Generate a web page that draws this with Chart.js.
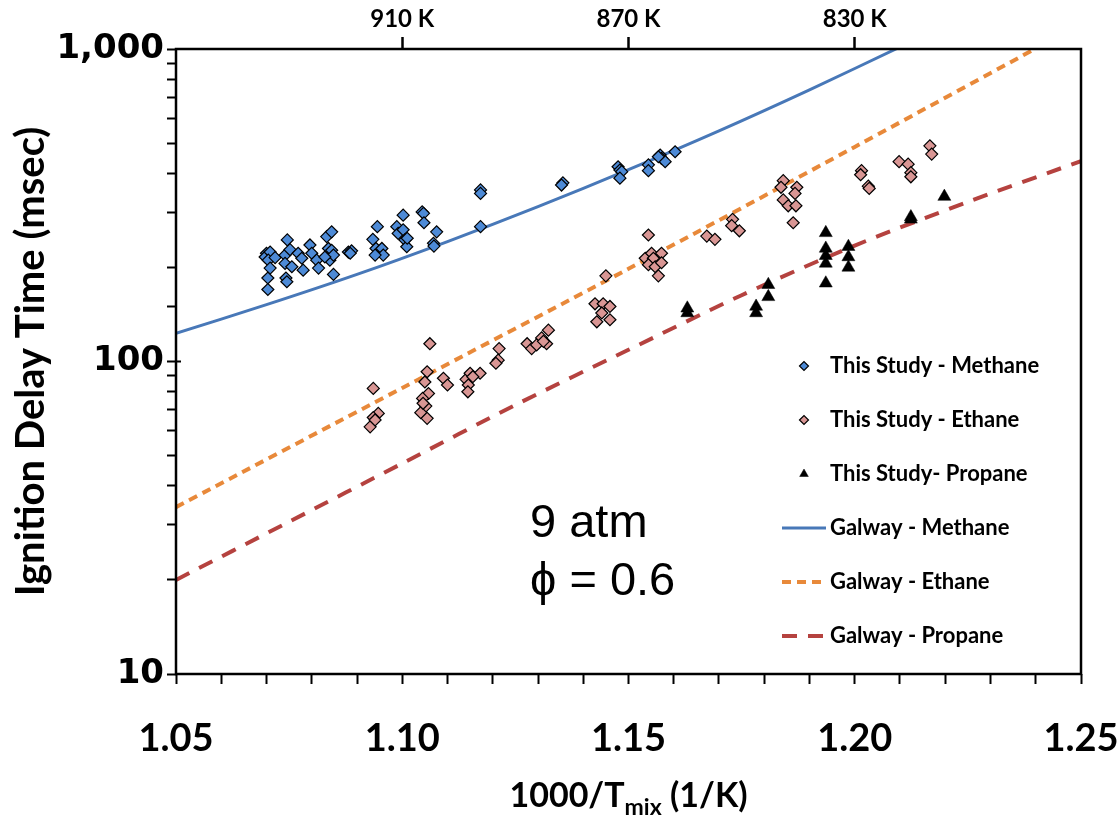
<!DOCTYPE html>
<html lang="en">
<head>
<meta charset="UTF-8">
<title>Ignition Delay Time - 9 atm</title>
<script src="https://cdn.jsdelivr.net/npm/chart.js"></script>
<style>
  body { margin: 0; background: #fff; }
  canvas { display: block; }
</style>
</head>
<body>
<canvas id="chart" width="1120" height="818"></canvas>
<script>
// measured ignition delays (1000/T, msec)
const studyMethaneX = [1.0700, 1.0697, 1.0708, 1.0704, 1.0719, 1.0708, 1.0703, 1.0703, 1.0741, 1.0746,
  1.0741, 1.0743, 1.0745, 1.0752, 1.0756, 1.0770, 1.0778, 1.0781, 1.0796, 1.0800,
  1.0811, 1.0815, 1.0833, 1.0844, 1.0837, 1.0844, 1.0840, 1.0848, 1.0829, 1.0848,
  1.0881, 1.0888, 1.0885, 1.0935, 1.0942, 1.0945, 1.0955, 1.0958, 1.0940, 1.0988,
  1.0991, 1.1002, 1.1002, 1.1006, 1.1010, 1.1011, 1.1044, 1.1047, 1.1048, 1.1076,
  1.1069, 1.1070, 1.1173, 1.1173, 1.1173, 1.1355, 1.1352, 1.1477, 1.1481, 1.1485,
  1.1481, 1.1544, 1.1544, 1.1570, 1.1573, 1.1581, 1.1603, 1.1566];
const studyMethaneY = [222, 216, 224, 211, 215, 199, 185, 170, 219, 245,
  206, 185, 180, 228, 201, 222, 214, 196, 236, 222,
  211, 199, 251, 260, 230, 227, 211, 219, 216, 190,
  224, 226, 222, 246, 230, 270, 230, 219, 219, 270,
  257, 294, 264, 245, 233, 248, 301, 298, 278, 260,
  239, 234, 354, 345, 270, 373, 367, 420, 410, 405,
  386, 426, 408, 458, 447, 436, 469, 452];

const studyEthaneX = [1.0936, 1.0947, 1.0936, 1.0929, 1.0940, 1.1061, 1.1055, 1.1050, 1.1058, 1.1045,
  1.1052, 1.1041, 1.1055, 1.1046, 1.1091, 1.1100, 1.1141, 1.1150, 1.1146, 1.1145,
  1.1172, 1.1156, 1.1214, 1.1212, 1.1207, 1.1276, 1.1286, 1.1308, 1.1323, 1.1319,
  1.1297, 1.1312, 1.1426, 1.1444, 1.1459, 1.1441, 1.1430, 1.1459, 1.1450, 1.1544,
  1.1537, 1.1551, 1.1573, 1.1555, 1.1544, 1.1559, 1.1573, 1.1566, 1.1673, 1.1691,
  1.1730, 1.1728, 1.1745, 1.1842, 1.1837, 1.1872, 1.1868, 1.1842, 1.1853, 1.1870,
  1.1864, 1.2015, 1.2013, 1.2030, 1.2032, 1.2098, 1.2118, 1.2124, 1.2124, 1.2166,
  1.2170];
const studyEthaneY = [82, 68.2, 66.2, 61.8, 65, 114, 92.7, 86, 79, 76.2,
  72, 68.6, 65.8, 73.5, 88.4, 84.1, 87.7, 91.7, 84.1, 80,
  91.7, 89.4, 110, 101, 98.7, 114, 110, 119, 126, 114,
  113, 116, 153, 153, 150, 143, 134, 136, 188, 254,
  214, 222, 222, 214, 204, 201, 207, 188, 252, 246,
  285, 272, 262, 379, 361, 361, 345, 329, 315, 315,
  278, 408, 396, 364, 358, 436, 428, 402, 390, 490,
  461];

const studyPropaneX = [1.1630, 1.1630, 1.1782, 1.1782, 1.1809, 1.1809, 1.1936, 1.1936, 1.1936, 1.1936,
  1.1936, 1.1986, 1.1986, 1.1986, 1.2124, 1.2124, 1.2198];
const studyPropaneY = [148, 143, 150, 143, 176, 161, 258, 230, 218, 206,
  178, 233, 216, 200, 290, 285, 337];

// Galway model predictions
const galwayMethaneX = [1.05, 1.07, 1.09, 1.11, 1.13, 1.15, 1.17, 1.19, 1.21];
const galwayMethaneY = [123, 152, 190, 242, 313, 411, 547, 740, 1015];
const galwayEthaneX = [1.05, 1.10, 1.15, 1.20, 1.25];
const galwayEthaneY = [34.2, 82.3, 198, 486, 1204];
const galwayPropaneX = [1.05, 1.075, 1.10, 1.125, 1.15, 1.175, 1.20, 1.225, 1.25];
const galwayPropaneY = [20, 30.7, 47.2, 72.6, 109, 163, 235, 324, 438];

// secondary axis: temperature labels
const topTickValues = [1.10, 1.15, 1.20];
const topTickLabels = ['910 K', '870 K', '830 K'];
const yLabelValues = [10, 100, 1000];

const pts = (xs, ys) => xs.map((x, i) => ({ x: x, y: ys[i] }));

const labelFont = 'Lato, "Open Sans", sans-serif';

// frame, x title with subscript, condition text, legend
const decorations = {
  id: 'decorations',
  afterDraw(chart) {
    const ctx = chart.ctx;
    const a = chart.chartArea;
    ctx.save();
    ctx.strokeStyle = '#000';
    ctx.lineWidth = 2.5;
    ctx.strokeRect(a.left, a.top, a.right - a.left, a.bottom - a.top);

    // major y ticks reach a little into the plot
    ctx.lineWidth = 2;
    const ys = chart.scales.y;
    yLabelValues.forEach(v => {
      const py = ys.getPixelForValue(v);
      ctx.beginPath();
      ctx.moveTo(a.left, py);
      ctx.lineTo(a.left + 5, py);
      ctx.stroke();
    });

    // x axis title: 1000/Tmix (1/K)
    ctx.fillStyle = '#000';
    ctx.textBaseline = 'alphabetic';
    const big = 'bold 34px ' + labelFont;
    const small = 'bold 23px ' + labelFont;
    const parts = [['1000/T', big, 0], ['mix', small, 8], [' (1/K)', big, 0]];
    let w = 0;
    parts.forEach(p => { ctx.font = p[1]; w += ctx.measureText(p[0]).width; });
    let x = (a.left + a.right) / 2 - w / 2;
    parts.forEach(p => {
      ctx.font = p[1];
      ctx.fillText(p[0], x, 807 + p[2]);
      x += ctx.measureText(p[0]).width;
    });

    // conditions
    ctx.font = '47px "Liberation Sans", Arial, sans-serif';
    ctx.fillText('9 atm', 530, 537);
    ctx.fillText('\u03D5 = 0.6', 530, 595);

    // legend
    const ds = chart.data.datasets;
    ctx.font = 'bold 22px ' + labelFont;
    ctx.textBaseline = 'middle';
    ds.forEach((d, i) => {
      const y = 366 + i * 54;
      const mx = 804;
      if (d.showLine === false) {
        ctx.fillStyle = d.backgroundColor;
        ctx.strokeStyle = d.borderColor;
        ctx.lineWidth = d.borderWidth;
        Chart.helpers.drawPoint(ctx, {
          pointStyle: d.pointStyle,
          radius: d.pointStyle === 'triangle' ? 5 : 4.5,
          rotation: 0,
          borderWidth: d.borderWidth
        }, mx, y);
      } else {
        ctx.strokeStyle = d.borderColor;
        ctx.lineWidth = d.borderWidth;
        ctx.setLineDash(d.borderDash || []);
        ctx.beginPath();
        ctx.moveTo(mx - 22, y);
        ctx.lineTo(mx + 22, y);
        ctx.stroke();
        ctx.setLineDash([]);
      }
      ctx.fillStyle = '#000';
      ctx.fillText(d.label, 830, y);
    });
    ctx.restore();
  }
};

const scatterSet = (label, data, style, fill, radius, border) => ({
  label: label,
  data: data,
  showLine: false,
  pointStyle: style,
  pointRadius: radius,
  pointBackgroundColor: fill,
  pointBorderColor: '#000',
  pointBorderWidth: border,
  backgroundColor: fill,
  borderColor: '#000',
  borderWidth: border,
  order: 0
});

const lineSet = (label, data, color, width, dash) => ({
  label: label,
  data: data,
  showLine: true,
  pointRadius: 0,
  borderColor: color,
  borderWidth: width,
  borderDash: dash,
  tension: 0.3,
  fill: false,
  order: 1
});

// keep the plot box fixed: no extra room for overhanging labels
const noSidePad = s => { s.paddingLeft = 0; s.paddingRight = 0; };

new Chart(document.getElementById('chart'), {
  type: 'scatter',
  data: {
    datasets: [
      scatterSet('This Study - Methane', pts(studyMethaneX, studyMethaneY), 'rectRot', '#4D8AD6', 6, 1.2),
      scatterSet('This Study - Ethane', pts(studyEthaneX, studyEthaneY), 'rectRot', '#D99694', 6, 1.2),
      scatterSet('This Study- Propane', pts(studyPropaneX, studyPropaneY), 'triangle', '#000', 7.5, 0.5),
      lineSet('Galway - Methane', pts(galwayMethaneX, galwayMethaneY), '#4878B8', 3, []),
      lineSet('Galway - Ethane', pts(galwayEthaneX, galwayEthaneY), '#E8893A', 4, [9, 6]),
      lineSet('Galway - Propane', pts(galwayPropaneX, galwayPropaneY), '#B5423F', 4, [15, 11])
    ]
  },
  options: {
    responsive: false,
    animation: false,
    layout: { padding: { right: 39 } },
    plugins: { legend: { display: false }, tooltip: { enabled: false } },
    scales: {
      x: {
        type: 'linear',
        position: 'bottom',
        min: 1.05,
        max: 1.25,
        border: { display: false },
        grid: { drawOnChartArea: false, tickLength: 10, tickWidth: 2, tickColor: '#000' },
        ticks: {
          stepSize: 0.01,
          autoSkip: false,
          maxRotation: 0,
          padding: 32,
          color: '#000',
          font: { family: labelFont, weight: 'bold', size: 38 },
          callback: v => (Math.round(v * 100) % 5 === 0 ? v.toFixed(2) : '')
        },
        afterFit: s => { s.height = 144; noSidePad(s); }
      },
      x2: {
        type: 'linear',
        position: 'top',
        min: 1.05,
        max: 1.25,
        border: { display: false },
        grid: { drawOnChartArea: false, tickLength: 12, tickWidth: 2.5, tickColor: '#000' },
        afterBuildTicks: s => { s.ticks = topTickValues.map(v => ({ value: v })); },
        ticks: {
          autoSkip: false,
          maxRotation: 0,
          padding: 3,
          color: '#000',
          font: { family: labelFont, weight: 'bold', size: 24 },
          callback: (v, i) => topTickLabels[i]
        },
        afterFit: s => { s.height = 49; noSidePad(s); }
      },
      y: {
        type: 'logarithmic',
        position: 'left',
        min: 10,
        max: 1000,
        border: { display: false },
        grid: { drawOnChartArea: false, tickLength: 9, tickWidth: 2, tickColor: '#000' },
        ticks: {
          autoSkip: false,
          padding: 3,
          color: '#000',
          font: { family: '"DejaVu Sans", Verdana, sans-serif', weight: 'bold', size: 34 },
          callback: v => (yLabelValues.includes(v) ? v.toLocaleString('en-US') : '')
        },
        title: {
          display: true,
          text: 'Ignition Delay Time (msec)',
          color: '#000',
          font: { family: labelFont, weight: 'bold', size: 40 },
          padding: { top: 7, bottom: 0 }
        },
        afterFit: s => { s.width = 176; s.paddingTop = 0; s.paddingBottom = 0; }
      }
    }
  },
  plugins: [decorations]
});
</script>
</body>
</html>
